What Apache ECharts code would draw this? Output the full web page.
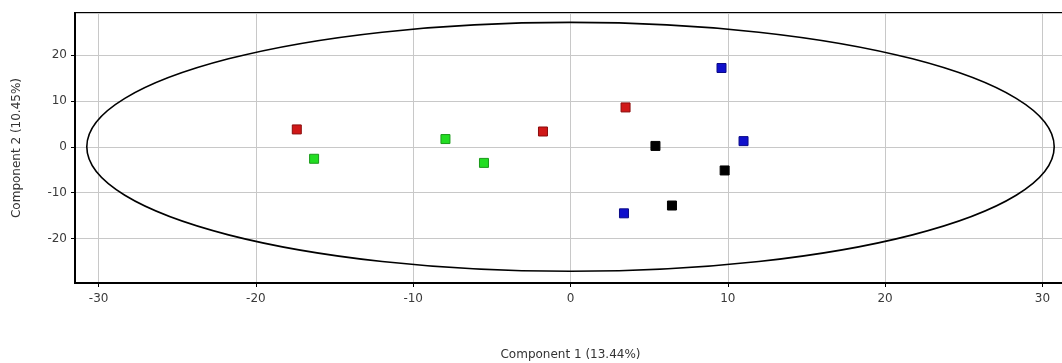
<!DOCTYPE html>
<html>
<head>
<meta charset="utf-8">
<script src="https://cdn.jsdelivr.net/npm/echarts@6/dist/echarts.min.js"></script>
<style>
  html, body { margin: 0; padding: 0; background: #fff; }
  #chart { width: 1062px; height: 363px; }
</style>
</head>
<body>
<div id="chart"></div>
<script>
// ---- data ----
const xAxisName = 'Component 1 (13.44%)';
const yAxisName = 'Component 2 (10.45%)';
const redPoints = [[-17.4, 3.8], [-1.75, 3.35], [3.5, 8.6]];
const greenPoints = [[-16.3, -2.6], [-7.95, 1.7], [-5.5, -3.5]];
const bluePoints = [[9.6, 17.2], [11.0, 1.25], [3.4, -14.5]];
const blackPoints = [[5.4, 0.2], [9.8, -5.15], [6.45, -12.8]];
const ellipseCenter = [0, 0];
const ellipseRadii = [30.75, 27.15];

const chart = echarts.init(document.getElementById('chart'), null, { renderer: 'canvas' });

function scatter(name, data, color, border) {
  return {
    name: name,
    type: 'scatter',
    data: data,
    symbol: 'rect',
    symbolSize: 9,
    itemStyle: { color: color, borderColor: border, borderWidth: 1, opacity: 1 },
    z: 5
  };
}

const labelFont = { fontFamily: 'DejaVu Sans', fontSize: 12, color: '#3a3a3a' };

chart.setOption({
  animation: false,
  backgroundColor: '#fff',
  grid: {
    left: 75, right: -4, top: 13, bottom: 80,
    containLabel: false,
    outerBoundsMode: 'none',
    show: true, borderColor: '#000', borderWidth: 2, backgroundColor: 'transparent'
  },
  xAxis: {
    type: 'value',
    min: -31.5, max: 31.5,
    name: xAxisName,
    nameLocation: 'middle',
    nameGap: 66,
    nameTextStyle: { fontFamily: 'DejaVu Sans', fontSize: 12, color: '#333' },
    axisLine: { show: true, onZero: false, lineStyle: { color: '#000', width: 2 } },
    axisTick: { show: true, inside: false, length: 4, lineStyle: { color: '#000', width: 1 } },
    axisLabel: Object.assign({ margin: 10, showMinLabel: false, showMaxLabel: false,
      formatter: v => (Math.abs(v % 10) < 1e-9 ? String(v) : '') }, labelFont),
    splitLine: { show: true, lineStyle: { color: '#c8c8c8', width: 1 } }
  },
  yAxis: {
    type: 'value',
    min: -29.7, max: 29.2,
    name: yAxisName,
    nameLocation: 'middle',
    nameGap: 52,
    nameTextStyle: { fontFamily: 'DejaVu Sans', fontSize: 12, color: '#333' },
    axisLine: { show: true, onZero: false, lineStyle: { color: '#000', width: 2 } },
    axisTick: { show: true, inside: false, length: 4, lineStyle: { color: '#000', width: 1 } },
    axisLabel: Object.assign({ margin: 8, showMinLabel: false, showMaxLabel: false,
      formatter: v => (Math.abs(v % 10) < 1e-9 ? String(v) : '') }, labelFont),
    splitLine: { show: true, lineStyle: { color: '#c8c8c8', width: 1 } }
  },
  series: [
    {
      type: 'custom',
      data: [[ellipseCenter[0], ellipseCenter[1], ellipseRadii[0], ellipseRadii[1]]],
      renderItem: function (params, api) {
        const c = api.coord([api.value(0), api.value(1)]);
        const s = api.size([api.value(2), api.value(3)]);
        return {
          type: 'ellipse',
          shape: { cx: c[0], cy: c[1], rx: s[0], ry: s[1] },
          style: { fill: 'none', stroke: '#000', lineWidth: 1.6 },
          z2: 1
        };
      },
      silent: true,
      z: 3
    },
    scatter('red', redPoints, '#d01818', '#8a0c0c'),
    scatter('green', greenPoints, '#22dd22', '#1a9a1a'),
    scatter('blue', bluePoints, '#1010cc', '#0a0a88'),
    scatter('black', blackPoints, '#000000', '#000000')
  ]
});
</script>
</body>
</html>
